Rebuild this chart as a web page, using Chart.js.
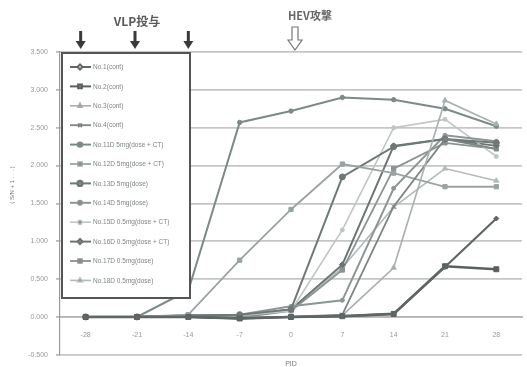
<!DOCTYPE html>
<html>
<head>
<meta charset="utf-8">
<script src="https://cdn.jsdelivr.net/npm/chart.js@4/dist/chart.umd.min.js"></script>
<style>
  html, body { margin: 0; padding: 0; background: #fff; }
  #wrap { width: 527px; height: 367px; position: relative; }
</style>
</head>
<body>
<div id="wrap"><canvas id="c" width="527" height="367"></canvas></div>
<script>
// Days post-inoculation (category axis)
const days = ['-28', '-21', '-14', '-7', '0', '7', '14', '21', '28'];

// Y axis ticks
const yMin = -0.5;
const yMax = 3.5;
const yStep = 0.5;

// Animal labels
const seriesNames = [
  'No.1(cont)',
  'No.2(cont)',
  'No.3(cont)',
  'No.4(cont)',
  'No.11D 5mg(dose + CT)',
  'No.12D 5mg(dose + CT)',
  'No.13D 5mg(dose)',
  'No.14D 5mg(dose)',
  'No.15D 0.5mg(dose + CT)',
  'No.16D 0.5mg(dose + CT)',
  'No.17D 0.5mg(dose)',
  'No.18D 0.5mg(dose)'
];

// Antibody readings per animal
const no1  = [0, 0, 0.00, -0.02, 0.00, 0.01, 0.04, 0.66, 1.30];
const no2  = [0, 0, 0.00, -0.02, 0.00, 0.01, 0.04, 0.67, 0.63];
const no3  = [0, 0, 0.00, -0.02, 0.00, 0.02, 0.65, 2.86, 2.55];
const no4  = [0, 0, 0.00, -0.02, 0.00, 0.03, 1.46, 2.35, 2.22];
const no11 = [0, 0, 0.35, 2.57, 2.72, 2.90, 2.87, 2.75, 2.52];
const no12 = [0, 0, 0.03, 0.75, 1.42, 2.02, 1.90, 1.72, 1.72];
const no13 = [0, 0, 0.02, 0.03, 0.10, 1.85, 2.25, 2.35, 2.30];
const no14 = [0, 0, 0.02, 0.03, 0.14, 0.22, 1.70, 2.40, 2.32];
const no15 = [0, 0, 0.02, 0.02, 0.08, 1.15, 2.50, 2.61, 2.12];
const no16 = [0, 0, 0.02, 0.02, 0.10, 0.69, 2.26, 2.35, 2.26];
const no17 = [0, 0, 0.02, -0.01, 0.08, 0.62, 1.96, 2.30, 2.22];
const no18 = [0, 0, 0.02, 0.01, 0.10, 0.65, 1.45, 1.96, 1.80];

const seriesValues = [no1, no2, no3, no4, no11, no12, no13, no14, no15, no16, no17, no18];

// Line styling per animal
const styles = [
  { color: '#5f6666', width: 2.2, point: 'rectRot', r: 2.5 },
  { color: '#5a5f5f', width: 2.6, point: 'rect', r: 3.5 },
  { color: '#a9b0b0', width: 1.6, point: 'triangle', r: 3 },
  { color: '#7c8484', width: 1.8, point: 'crossRot', r: 3 },
  { color: '#7d8a8a', width: 2.0, point: 'circle', r: 2.2 },
  { color: '#9aa3a3', width: 1.8, point: 'rect', r: 3 },
  { color: '#6f7777', width: 2.0, point: 'circle', r: 3 },
  { color: '#8d9595', width: 2.0, point: 'circle', r: 2 },
  { color: '#bfc5c5', width: 1.6, point: 'circle', r: 2 },
  { color: '#6c7474', width: 2.0, point: 'rectRot', r: 3 },
  { color: '#8a9292', width: 1.8, point: 'rect', r: 3 },
  { color: '#b3baba', width: 1.6, point: 'triangle', r: 3 }
];

const datasets = seriesValues.map((vals, i) => ({
  label: seriesNames[i],
  data: vals,
  borderColor: styles[i].color,
  backgroundColor: styles[i].color,
  borderWidth: styles[i].width,
  pointStyle: styles[i].point,
  pointRadius: styles[i].r,
  pointBorderWidth: 1,
  tension: 0
}));

// Arrows, captions, axis titles and the boxed legend
const decorations = {
  id: 'decorations',
  afterDraw(chart) {
    const ctx = chart.ctx;
    const x = chart.scales.x;
    ctx.save();

    // Vaccination arrows
    ctx.fillStyle = '#3a3a3a';
    [0, 1, 2].forEach(i => {
      const px = x.getPixelForValue(i) - (i === 0 ? 5 : i === 1 ? 2 : 0);
      ctx.fillRect(px - 1.5, 31, 3, 11);
      ctx.beginPath();
      ctx.moveTo(px - 5, 41);
      ctx.lineTo(px + 5, 41);
      ctx.lineTo(px, 49);
      ctx.closePath();
      ctx.fill();
    });
    ctx.font = 'bold 12px "Noto Sans CJK JP", "DejaVu Sans", sans-serif';
    ctx.textAlign = 'center';
    ctx.textBaseline = 'middle';
    ctx.fillStyle = '#5a5a5a';
    ctx.fillText('VLP投与', x.getPixelForValue(1), 21);

    // Challenge arrow (hollow)
    const hx = x.getPixelForValue(4) + 4;
    ctx.strokeStyle = '#777';
    ctx.lineWidth = 1.2;
    ctx.beginPath();
    ctx.moveTo(hx - 3, 27);
    ctx.lineTo(hx + 3, 27);
    ctx.lineTo(hx + 3, 40);
    ctx.lineTo(hx + 7, 40);
    ctx.lineTo(hx, 50);
    ctx.lineTo(hx - 7, 40);
    ctx.lineTo(hx - 3, 40);
    ctx.closePath();
    ctx.stroke();
    ctx.textAlign = 'left';
    ctx.fillStyle = '#666';
    ctx.font = 'bold 11px "Noto Sans CJK JP", "DejaVu Sans", sans-serif';
    ctx.fillText('HEV攻撃', hx - 7, 16);

    // Axis titles
    ctx.font = '7px "Liberation Sans", sans-serif';
    ctx.fillStyle = '#777';
    ctx.textAlign = 'center';
    ctx.fillText('PID', x.getPixelForValue(4), 364);
    ctx.save();
    ctx.translate(12, 185);
    ctx.rotate(-Math.PI / 2);
    ctx.font = '6px "Liberation Sans", sans-serif';
    ctx.fillText('( S/N + 1 . . . )', 0, 0);
    ctx.restore();

    // Legend box
    const bx = 62, by = 53, bw = 128, bh = 245;
    ctx.fillStyle = '#fff';
    ctx.fillRect(bx, by, bw, bh);
    ctx.strokeStyle = '#555';
    ctx.lineWidth = 2;
    ctx.strokeRect(bx, by, bw, bh);
    ctx.font = '6.5px "Liberation Sans", sans-serif';
    ctx.textAlign = 'left';
    chart.data.datasets.forEach((ds, i) => {
      const ly = 67 + i * 19.4;
      ctx.strokeStyle = ds.borderColor;
      ctx.lineWidth = Math.min(ds.borderWidth, 2);
      ctx.beginPath();
      ctx.moveTo(70, ly);
      ctx.lineTo(91, ly);
      ctx.stroke();
      Chart.helpers.drawPoint(ctx, {
        pointStyle: ds.pointStyle,
        radius: Math.min(ds.pointRadius, 2.6),
        borderWidth: 1
      }, 80, ly);
      ctx.fillStyle = '#7f8585';
      ctx.fillText(ds.label, 93, ly + 0.5);
    });

    ctx.restore();
  }
};

new Chart(document.getElementById('c'), {
  type: 'line',
  data: { labels: days, datasets },
  plugins: [decorations],
  options: {
    responsive: false,
    animation: false,
    layout: { padding: { top: 52, bottom: 9, left: 0, right: 0 } },
    plugins: {
      legend: { display: false },
      tooltip: { enabled: false }
    },
    scales: {
      x: {
        type: 'category',
        position: { y: 0 },
        offset: true,
        grid: { display: false, drawTicks: false },
        border: { display: true, color: '#b5b5b5', width: 1.8 },
        ticks: {
          color: '#999',
          font: { size: 7, family: 'Liberation Sans' },
          padding: 14,
          maxRotation: 0
        }
      },
      y: {
        min: yMin,
        max: yMax,
        afterFit(scale) { scale.width = 60; },
        ticks: {
          stepSize: yStep,
          color: '#999',
          font: { size: 7, family: 'Liberation Sans' },
          padding: 8,
          callback: v => Number(v).toFixed(3)
        },
        grid: {
          color: '#c6c6c6',
          lineWidth: 1.8,
          tickLength: 4,
          tickColor: '#bbb'
        },
        border: { display: true, color: '#9a9a9a', width: 1.2 }
      }
    }
  }
});
</script>
</body>
</html>
